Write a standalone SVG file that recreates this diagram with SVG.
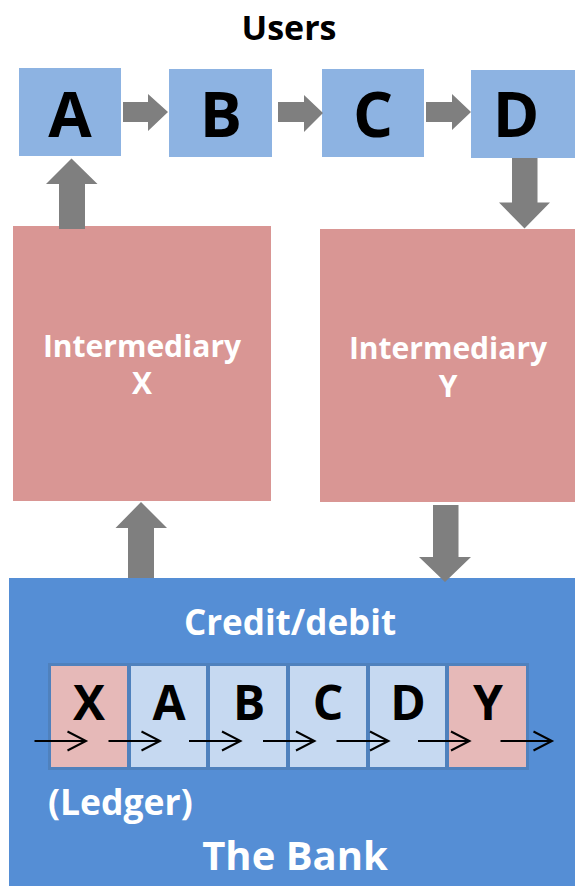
<svg xmlns="http://www.w3.org/2000/svg" width="575" height="886" viewBox="0 0 575 886">
<style>
.t{font-family:"Open Sans","Noto Sans","DejaVu Sans",sans-serif;font-weight:700;text-anchor:middle}
.user{fill:#8DB3E2}
.inter{fill:#D99694}
.big{font-size:63px;fill:#000}
.wt{fill:#fff}
.arr{fill:#7F7F7F}
.cellb{fill:#C6D9F1;stroke:#4F81BD;stroke-width:2}
.cellp{fill:#E6B9B8;stroke:#4F81BD;stroke-width:2}
.cl{font-size:48px;fill:#000}
.sa{fill:none;stroke:#000;stroke-width:2}
</style>
<rect width="575" height="886" fill="#fff"/>
<text class="t" x="289" y="40" font-size="34">Users</text>
<g id="userA"><rect class="user" x="19" y="68" width="102" height="88"/><text class="t big" x="70" y="137">A</text></g>
<g id="userB"><rect class="user" x="169" y="69" width="103" height="88"/><text class="t big" x="221" y="137">B</text></g>
<g id="userC"><rect class="user" x="322" y="69" width="102" height="88"/><text class="t big" x="373" y="137">C</text></g>
<g id="userD"><rect class="user" x="471" y="70" width="104" height="88"/><text class="t big" x="516" y="137">D</text></g>
<g id="interX"><rect class="inter" x="13" y="226" width="258" height="275"/><text class="t wt" x="142" y="357" font-size="30">Intermediary</text><text class="t wt" x="142" y="394" font-size="30">X</text></g>
<g id="interY"><rect class="inter" x="320" y="229" width="255" height="273"/><text class="t wt" x="448" y="359" font-size="30">Intermediary</text><text class="t wt" x="448" y="397" font-size="30">Y</text></g>
<g id="bank">
<rect x="9" y="578" width="566" height="308" fill="#558ED5"/>
<text class="t wt" x="290" y="635" font-size="35">Credit/debit</text>
<text class="t wt" x="295" y="870" font-size="40">The Bank</text>
<text class="t wt" x="48" y="815" font-size="35.5" style="text-anchor:start">(Ledger)</text>
</g>
<g id="ledger">
<rect x="48" y="663" width="481" height="107" fill="#4F81BD"/>
<rect class="cellp" x="50" y="665" width="78" height="103"/>
<rect class="cellb" x="130" y="665" width="77" height="103"/>
<rect class="cellb" x="209" y="665" width="78" height="103"/>
<rect class="cellb" x="289" y="665" width="78" height="103"/>
<rect class="cellb" x="369" y="665" width="77" height="103"/>
<rect class="cellp" x="448" y="665" width="79" height="103"/>
<text class="t cl" x="89" y="720">X</text>
<text class="t cl" x="169" y="720">A</text>
<text class="t cl" x="249" y="720">B</text>
<text class="t cl" x="328" y="720">C</text>
<text class="t cl" x="408" y="720">D</text>
<text class="t cl" x="488" y="720">Y</text>
</g>
<g id="connectors">
<polygon class="arr" points="123,102 148,102 148,94 168,112 148,131 148,122 123,122"/>
<polygon class="arr" points="278,102 304,102 304,95 323,113 304,132 304,122 278,122"/>
<polygon class="arr" points="426,102 452,102 452,94 471,112 452,130 452,122 426,122"/>
<polygon class="arr" points="59,229 59,184 46,184 71.5,158.5 97.5,184 85,184 85,229"/>
<polygon class="arr" points="512,158 537.5,158 537.5,202.5 550,202.5 524.5,228.5 499,202.5 512,202.5"/>
<polygon class="arr" points="128,578 128,528 115.5,528 141,502 167,528 154,528 154,578"/>
<polygon class="arr" points="433,505 458.5,505 458.5,557 471,557 445,582 419,557 433,557"/>
<g class="sa">
<path d="M34.5,741H86M67.5,731.5L86,741L67.5,750.5"/>
<path d="M108.5,741H160M141.5,731.5L160,741L141.5,750.5"/>
<path d="M189,741H240.5M222,731.5L240.5,741L222,750.5"/>
<path d="M263,741H314.5M296,731.5L314.5,741L296,750.5"/>
<path d="M336.5,741H388.5M370,731.5L388.5,741L370,750.5"/>
<path d="M418,741H469.5M451,731.5L469.5,741L451,750.5"/>
<path d="M500.5,741H552M533.5,731.5L552,741L533.5,750.5"/>
</g>
</g>
</svg>
